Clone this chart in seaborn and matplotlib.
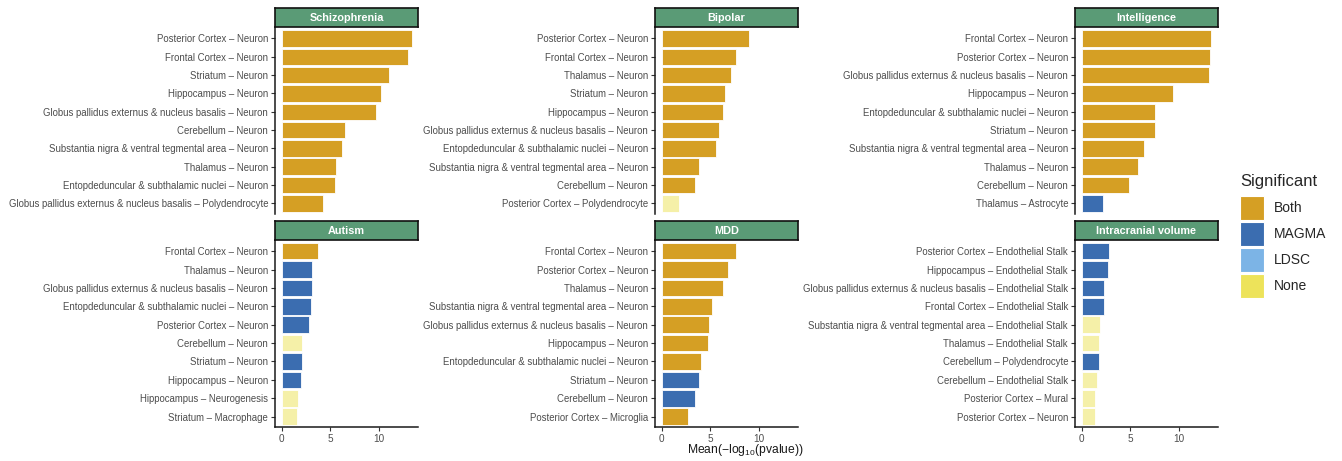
import matplotlib
matplotlib.use("Agg")
import matplotlib.pyplot as plt
from matplotlib.patches import Patch
import pandas as pd
import seaborn as sns

sns.set_theme(style="white")
plt.rcParams["font.family"] = ["Liberation Sans", "DejaVu Sans"]
plt.rcParams["mathtext.fontset"] = "custom"
plt.rcParams["mathtext.rm"] = "Liberation Sans"
plt.rcParams["mathtext.it"] = "Liberation Sans:italic"
plt.rcParams["mathtext.bf"] = "Liberation Sans:bold"

# ---- data: top cell types per trait ----
traits = ["Schizophrenia", "Bipolar", "Intelligence", "Autism", "MDD", "Intracranial volume"]

scz_labels = ["Posterior Cortex – Neuron", "Frontal Cortex – Neuron", "Striatum – Neuron",
              "Hippocampus – Neuron", "Globus pallidus externus & nucleus basalis – Neuron",
              "Cerebellum – Neuron", "Substantia nigra & ventral tegmental area – Neuron",
              "Thalamus – Neuron", "Entopdeduncular & subthalamic nuclei – Neuron",
              "Globus pallidus externus & nucleus basalis – Polydendrocyte"]
scz_values = [13.3, 12.9, 11.0, 10.2, 9.66, 6.46, 6.19, 5.54, 5.48, 4.22]
scz_sig = ["Both"] * 10

bip_labels = ["Posterior Cortex – Neuron", "Frontal Cortex – Neuron", "Thalamus – Neuron",
              "Striatum – Neuron", "Hippocampus – Neuron",
              "Globus pallidus externus & nucleus basalis – Neuron",
              "Entopdeduncular & subthalamic nuclei – Neuron",
              "Substantia nigra & ventral tegmental area – Neuron",
              "Cerebellum – Neuron", "Posterior Cortex – Polydendrocyte"]
bip_values = [8.91, 7.59, 7.07, 6.46, 6.29, 5.92, 5.54, 3.81, 3.47, 1.80]
bip_sig = ["Both"] * 9 + ["None"]

int_labels = ["Frontal Cortex – Neuron", "Posterior Cortex – Neuron",
              "Globus pallidus externus & nucleus basalis – Neuron", "Hippocampus – Neuron",
              "Entopdeduncular & subthalamic nuclei – Neuron", "Striatum – Neuron",
              "Substantia nigra & ventral tegmental area – Neuron", "Thalamus – Neuron",
              "Cerebellum – Neuron", "Thalamus – Astrocyte"]
int_values = [13.27, 13.1, 13.0, 9.39, 7.52, 7.50, 6.36, 5.78, 4.86, 2.18]
int_sig = ["Both"] * 9 + ["MAGMA"]

asd_labels = ["Frontal Cortex – Neuron", "Thalamus – Neuron",
              "Globus pallidus externus & nucleus basalis – Neuron",
              "Entopdeduncular & subthalamic nuclei – Neuron", "Posterior Cortex – Neuron",
              "Cerebellum – Neuron", "Striatum – Neuron", "Hippocampus – Neuron",
              "Hippocampus – Neurogenesis", "Striatum – Macrophage"]
asd_values = [3.74, 3.13, 3.10, 3.03, 2.82, 2.11, 2.07, 1.97, 1.73, 1.63]
asd_sig = ["Both", "MAGMA", "MAGMA", "MAGMA", "MAGMA", "None", "MAGMA", "MAGMA", "None", "None"]

mdd_labels = ["Frontal Cortex – Neuron", "Posterior Cortex – Neuron", "Thalamus – Neuron",
              "Substantia nigra & ventral tegmental area – Neuron",
              "Globus pallidus externus & nucleus basalis – Neuron", "Hippocampus – Neuron",
              "Entopdeduncular & subthalamic nuclei – Neuron", "Striatum – Neuron",
              "Cerebellum – Neuron", "Posterior Cortex – Microglia"]
mdd_values = [7.65, 6.84, 6.29, 5.20, 4.86, 4.80, 4.08, 3.84, 3.47, 2.69]
mdd_sig = ["Both"] * 7 + ["MAGMA", "MAGMA", "Both"]

icv_labels = ["Posterior Cortex – Endothelial Stalk", "Hippocampus – Endothelial Stalk",
              "Globus pallidus externus & nucleus basalis – Endothelial Stalk",
              "Frontal Cortex – Endothelial Stalk",
              "Substantia nigra & ventral tegmental area – Endothelial Stalk",
              "Thalamus – Endothelial Stalk", "Cerebellum – Polydendrocyte",
              "Cerebellum – Endothelial Stalk", "Posterior Cortex – Mural",
              "Posterior Cortex – Neuron"]
icv_values = [2.86, 2.72, 2.31, 2.28, 1.94, 1.80, 1.80, 1.63, 1.43, 1.43]
icv_sig = ["MAGMA"] * 4 + ["None", "None", "MAGMA", "None", "None", "None"]

sig_levels = ["Both", "MAGMA", "LDSC", "None"]
sig_colors = {"Both": "#D59F24", "MAGMA": "#3B6DB0", "LDSC": "#7CB4E6", "None": "#EDE35A"}
# non-significant bars are drawn faded
bar_colors = dict(sig_colors, **{"None": "#F5F0A8"})

frames = []
for trait, labs, vals, sigs in zip(
        traits,
        [scz_labels, bip_labels, int_labels, asd_labels, mdd_labels, icv_labels],
        [scz_values, bip_values, int_values, asd_values, mdd_values, icv_values],
        [scz_sig, bip_sig, int_sig, asd_sig, mdd_sig, icv_sig]):
    frames.append(pd.DataFrame({"trait": trait, "label": labs, "value": vals, "sig": sigs}))
df = pd.concat(frames, ignore_index=True)

# ---- layout (pixel geometry of a 1342x461 canvas) ----
W, H = 1342, 461
fig = plt.figure(figsize=(W / 100, H / 100), dpi=100)

col_left = [275, 655, 1075]
panel_w = 143
rows = [(27.3, 214.0, 8.3), (240.0, 427.3, 220.7)]  # (panel top, panel bottom, strip top)

vmax = df["value"].max()
xlim = (-0.05 * vmax, 1.05 * vmax)
text_grey = "#4D4D4D"

for i, trait in enumerate(traits):
    r, c = divmod(i, 3)
    ptop, pbot, stop = rows[r]
    left = col_left[c]
    ax = fig.add_axes([left / W, 1 - pbot / H, panel_w / W, (pbot - ptop) / H])
    sub = df[df["trait"] == trait]
    sns.barplot(data=sub, x="value", y="label", hue="sig", order=list(sub["label"]),
                hue_order=sig_levels, palette=bar_colors, dodge=False, width=0.9,
                saturation=1, edgecolor="white", linewidth=0.6, legend=False, ax=ax)
    ax.set_xlim(*xlim)
    ax.set_ylim(9.58, -0.61)
    ax.set_xlabel("")
    ax.set_ylabel("")
    ax.set_facecolor("white")
    for s in ["top", "right"]:
        ax.spines[s].set_visible(False)
    ax.spines["left"].set_color("#1A1A1A")
    ax.spines["left"].set_linewidth(1.1)
    ax.tick_params(axis="y", left=True, length=3, width=0.8, color="#333333",
                   labelsize=6.9, labelcolor=text_grey, pad=2)
    if r == 0:
        ax.spines["bottom"].set_visible(False)
        ax.set_xticks([])
    else:
        ax.spines["bottom"].set_color("#1A1A1A")
        ax.spines["bottom"].set_linewidth(1.1)
        ax.set_xticks([0, 5, 10])
        ax.tick_params(axis="x", bottom=True, length=3, width=0.8, color="#333333",
                       labelsize=7.2, labelcolor=text_grey, pad=2)

    # facet strip
    sax = fig.add_axes([left / W, 1 - ptop / H, panel_w / W, (ptop - stop) / H])
    sax.set_facecolor("#5A9B76")
    sax.set_xticks([])
    sax.set_yticks([])
    for s in sax.spines.values():
        s.set_color("#111111")
        s.set_linewidth(1.2)
    sax.text(0.5, 0.48, trait, transform=sax.transAxes, ha="center", va="center",
             color="white", fontsize=7.8, fontweight="bold")

# shared x-axis title
fig.text(745 / W, 1 - 450 / H, r"Mean(−log$_{10}$(pvalue))", ha="center", va="center",
         fontsize=8.7, color="#1A1A1A")

# legend
handles = [Patch(facecolor=sig_colors[k], edgecolor="white", linewidth=0.8, label=k)
           for k in sig_levels]
leg = fig.legend(handles=handles, title="Significant", loc="upper left",
                 bbox_to_anchor=(1240 / W, 1 - 174 / H), frameon=False,
                 fontsize=10, title_fontsize=12, handlelength=1.73, handleheight=2.28,
                 labelspacing=0.14, handletextpad=0.72, borderpad=0, borderaxespad=0)
leg._legend_box.align = "left"
leg._legend_box.sep = 5.0  # extra room between title and keys

fig.savefig("out.png", dpi=100)
